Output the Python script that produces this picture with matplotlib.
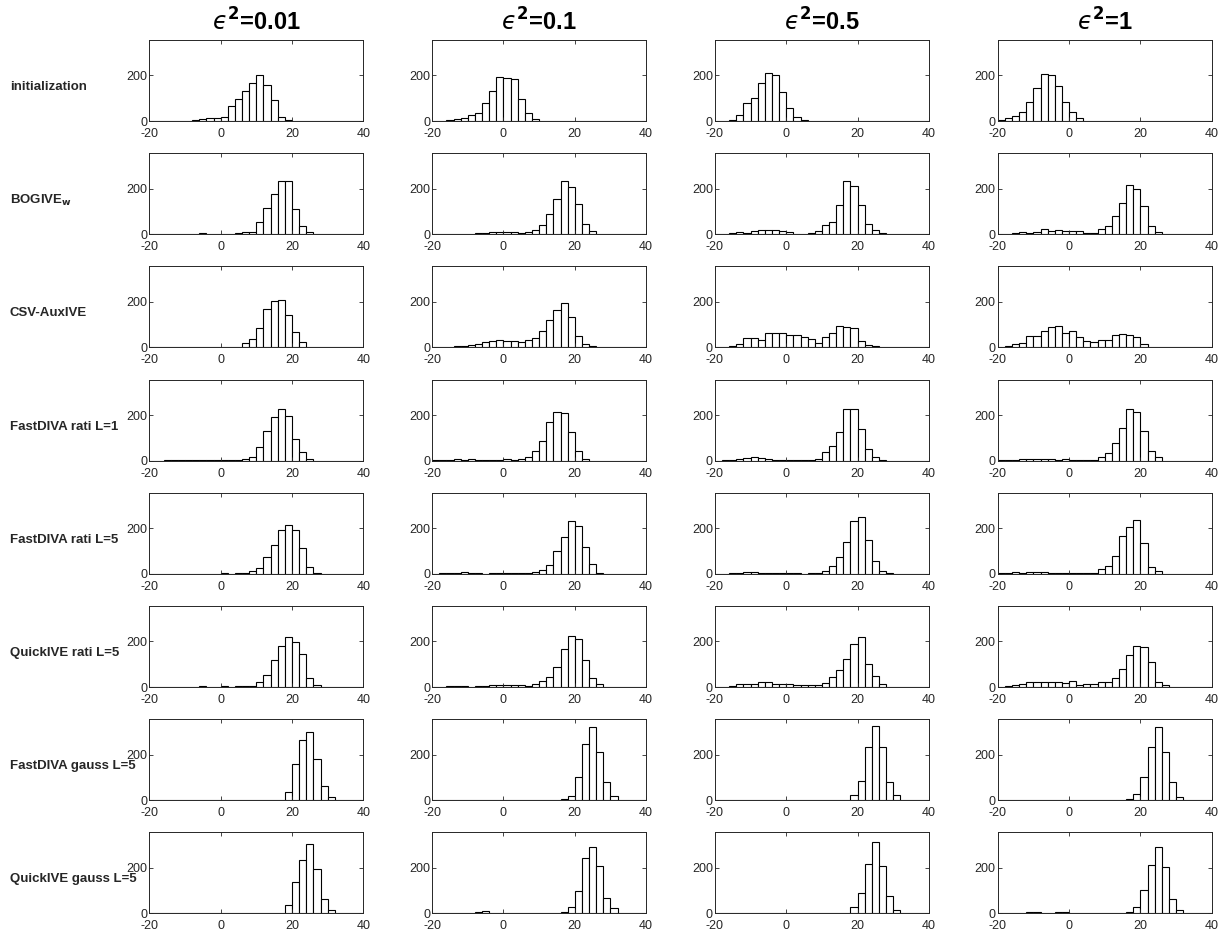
import numpy as np
import matplotlib
matplotlib.use('Agg')
import matplotlib.pyplot as plt

plt.rcParams['font.family'] = ['Liberation Sans', 'DejaVu Sans']
plt.rcParams['mathtext.fontset'] = 'dejavusans'
plt.rcParams['axes.unicode_minus'] = False

# bin edges -20:2:40 -> 30 bins, centres -19..39
bin_centers = np.arange(-19, 40, 2)
eps_values = ['0.01', '0.1', '0.5', '1']
row_labels = ['initialization', r'BOGIVE$_{\mathbf{w}}$', 'CSV-AuxIVE', 'FastDIVA rati L=1',
              'FastDIVA rati L=5', 'QuickIVE rati L=5', 'FastDIVA gauss L=5', 'QuickIVE gauss L=5']

init_001 = [0,0,0,0,0,1,3,10,12,12,18,64,98,130,168,200,158,93,18,4,0,0,0,0,0,0,0,0,0,0]
init_01  = [0,2,4,8,15,25,35,80,133,195,190,183,97,35,8,0,0,0,0,0,0,0,0,0,0,0,0,0,0,0]
init_05  = [0,2,5,25,80,102,167,210,204,127,58,16,5,0,0,0,0,0,0,0,0,0,0,0,0,0,0,0,0,0]
init_1   = [5,12,20,38,82,143,207,200,155,82,40,15,0,0,0,0,0,0,0,0,0,0,0,0,0,0,0,0,0,0]

bog_001 = [0,0,0,0,0,0,0,4,0,0,3,3,5,8,10,54,115,176,233,233,110,37,10,2,0,0,0,0,0,0]
bog_01  = [0,0,0,0,0,2,4,6,10,8,11,10,5,8,20,40,88,155,236,208,133,45,12,2,0,0,0,0,0,0]
bog_05  = [0,0,5,8,6,12,20,20,18,12,10,0,2,6,12,42,52,128,232,214,130,45,18,5,0,0,0,0,0,0]
bog_1   = [0,2,5,8,6,10,22,15,18,14,14,12,5,5,22,35,82,138,215,198,122,38,8,0,0,0,0,0,0,0]

csv_001 = [0,0,0,0,0,0,2,3,3,2,2,3,3,18,35,85,167,206,207,143,67,25,3,0,0,0,0,0,0,0]
csv_01  = [0,0,2,4,5,10,15,22,28,32,30,29,25,32,40,70,119,164,193,133,48,14,4,1,0,0,0,0,0,0]
csv_05  = [0,3,5,16,40,43,32,62,65,65,54,54,45,39,19,46,62,93,91,85,30,12,5,2,0,0,0,0,0,0]
csv_1   = [3,5,16,19,48,51,70,91,96,65,71,45,26,25,32,33,54,61,55,45,14,3,0,0,0,0,0,0,0,0]

fd1_001 = [0,0,2,3,1,2,3,2,3,3,4,2,4,5,17,58,130,191,226,196,94,36,5,0,0,0,0,0,0,0]
fd1_01  = [2,3,2,5,3,8,4,3,4,4,8,4,5,18,40,84,170,213,210,127,42,5,0,0,0,0,0,0,0,0]
fd1_05  = [0,2,4,6,10,15,12,6,3,4,4,2,1,3,5,38,62,126,226,228,138,50,15,3,0,0,0,0,0,0]
fd1_1   = [3,2,3,6,8,8,6,6,4,8,4,3,2,3,18,32,76,142,228,212,132,43,14,0,0,0,0,0,0,0]

fd5_001 = [0,0,0,0,0,0,0,0,0,0,2,1,2,4,12,26,76,125,194,216,192,112,30,5,0,0,0,0,0,0]
fd5_01  = [0,2,5,4,7,5,4,0,2,3,3,3,2,2,8,15,40,100,163,230,210,117,45,5,0,0,0,0,0,0]
fd5_05  = [0,0,2,4,8,10,4,3,2,2,3,2,1,2,5,14,33,72,138,233,249,147,58,13,3,0,0,0,0,0]
fd5_1   = [4,2,8,4,10,10,10,4,2,3,2,2,2,5,20,33,78,168,207,236,137,32,14,0,0,0,0,0,0,0]

q5_001 = [0,0,0,0,0,0,2,3,0,2,3,2,3,4,5,23,54,117,181,220,196,143,40,10,2,0,0,0,0,0]
q5_01  = [2,2,3,4,6,2,4,6,8,10,8,8,8,3,15,25,45,88,165,225,212,117,40,14,0,0,0,0,0,0]
q5_05  = [0,2,5,12,13,15,20,20,15,12,14,10,8,8,10,16,43,74,121,190,221,103,47,14,2,0,0,0,0,0]
q5_1   = [2,4,10,14,22,22,22,20,20,18,25,10,13,12,23,21,40,81,141,179,176,108,21,10,0,0,0,0,0,0]

fg5_001 = [0,0,0,0,0,0,0,0,0,0,0,0,0,0,0,0,0,0,3,37,160,264,299,182,63,13,3,0,0,0]
fg5_01  = [0,0,0,0,0,0,0,0,0,0,0,0,0,0,0,0,0,0,5,19,103,246,320,212,82,20,3,0,0,0]
fg5_05  = [0,0,0,0,0,0,0,0,0,0,0,0,0,0,0,0,0,0,0,23,85,234,325,234,82,22,0,0,0,0]
fg5_1   = [0,0,0,0,2,0,0,0,0,0,0,0,0,0,0,0,0,0,5,26,104,235,320,212,79,13,0,0,0,0]

qg5_001 = [0,0,0,0,0,0,2,1,0,0,0,0,0,0,0,0,0,0,3,36,140,236,303,193,65,13,3,0,0,0]
qg5_01  = [0,0,0,0,3,2,5,10,3,1,0,0,0,0,0,0,0,0,4,26,100,245,294,210,68,22,3,0,0,0]
qg5_05  = [0,0,0,0,3,3,2,3,3,2,0,0,1,0,0,1,0,2,2,26,90,217,314,209,77,17,0,0,0,0]
qg5_1   = [0,0,2,3,5,4,2,3,5,5,3,3,2,1,0,0,0,0,6,30,104,212,294,206,64,17,0,0,0,0]

grid = [
    [init_001, init_01, init_05, init_1],
    [bog_001, bog_01, bog_05, bog_1],
    [csv_001, csv_01, csv_05, csv_1],
    [fd1_001, fd1_01, fd1_05, fd1_1],
    [fd5_001, fd5_01, fd5_05, fd5_1],
    [q5_001, q5_01, q5_05, q5_1],
    [fg5_001, fg5_01, fg5_05, fg5_1],
    [qg5_001, qg5_01, qg5_05, qg5_1],
]

W, H = 1227, 933
fig = plt.figure(figsize=(W / 100, H / 100), dpi=100)
fig.patch.set_facecolor('white')

gray = '#262626'
for i, row in enumerate(grid):
    for j, counts in enumerate(row):
        left = 149.3 + j * 282.8
        bottom = 121 + i * 113.2
        ax = fig.add_axes([left / W, 1 - bottom / H, 214 / W, 81 / H])
        ax.bar(bin_centers, counts, width=2, color='white', edgecolor='black', linewidth=0.8)
        ax.set_xlim(-20, 40)
        ax.set_ylim(0, 356)
        ax.set_xticks([-20, 0, 20, 40])
        ax.set_yticks([0, 200])
        ax.tick_params(direction='in', length=3, width=0.6, top=True, right=True,
                       labelsize=9, colors=gray)
        ax.tick_params(axis='x', pad=5)
        ax.tick_params(axis='y', pad=1.5)
        for sp in ax.spines.values():
            sp.set_color(gray)
            sp.set_linewidth(0.7)
        if i == 0:
            # lunate epsilon in regular weight, bold superscript and value
            ax.set_title('$\u03f5^{\\mathbf{2}}$=' + eps_values[j], fontsize=17,
                         fontweight='bold', pad=7)
    fig.text(10 / W, 1 - (87 + i * 113.2) / H, row_labels[i], fontsize=9.5,
             fontweight='bold', color=gray, ha='left', va='center')

fig.savefig('out.png', dpi=100)
